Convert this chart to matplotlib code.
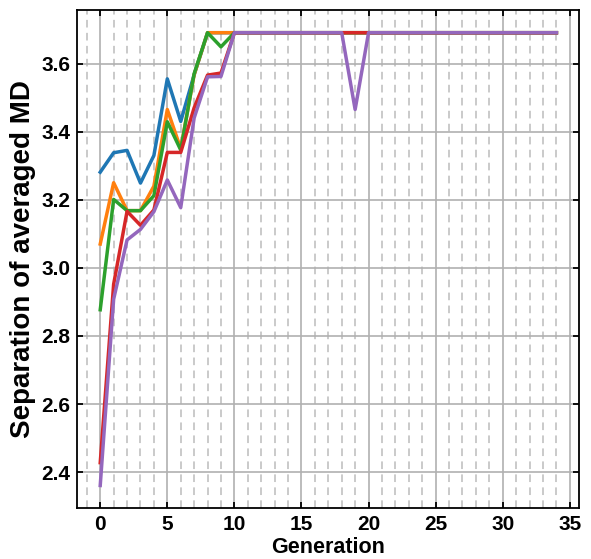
import matplotlib
matplotlib.use("Agg")
import matplotlib.pyplot as plt
from matplotlib.ticker import MultipleLocator

plt.rcParams['font.family'] = ['Liberation Sans', 'DejaVu Sans']
plt.rcParams['font.weight'] = 'bold'

TOP = 3.6905

generations = list(range(35))

# one run per colour, generations 0-10, then flat at the top value
head_blue = [3.281, 3.338, 3.345, 3.249, 3.330, 3.555, 3.430, 3.567, TOP, TOP, TOP]
head_orange = [3.070, 3.250, 3.168, 3.168, 3.240, 3.465, 3.350, 3.567, TOP, TOP, TOP]
head_green = [2.877, 3.201, 3.168, 3.168, 3.212, 3.429, 3.346, 3.570, TOP, 3.649, TOP]
head_red = [2.428, 2.952, 3.166, 3.125, 3.170, 3.339, 3.339, 3.470, 3.566, 3.572, TOP]
head_purple = [2.361, 2.908, 3.082, 3.113, 3.165, 3.258, 3.177, 3.440, 3.561, 3.562, TOP]

blue = head_blue + [TOP] * 24
orange = head_orange + [TOP] * 24
green = head_green + [TOP] * 24
red = head_red + [TOP] * 24
purple = head_purple + [TOP] * 8 + [3.465] + [TOP] * 15

fig, ax = plt.subplots(figsize=(5.91, 5.59), dpi=100)

for series in [blue, orange, green, red, purple]:
    ax.plot(generations, series, linewidth=2.5)

ax.xaxis.set_major_locator(MultipleLocator(5))
ax.xaxis.set_minor_locator(MultipleLocator(1))
ax.yaxis.set_major_locator(MultipleLocator(0.2))

ax.grid(which='major', axis='both', color='#b0b0b0', linewidth=1.2)
ax.grid(which='minor', axis='x', color='#bcbcbc', linewidth=1.1,
        linestyle=(0, (5, 3.5)))
ax.set_axisbelow(True)

ax.tick_params(which='major', direction='in', top=True, right=True,
               length=4.5, width=1.3, labelsize=15, pad=5)
ax.tick_params(which='minor', length=0)
for lab in ax.get_xticklabels() + ax.get_yticklabels():
    lab.set_fontweight('bold')

for sp in ax.spines.values():
    sp.set_linewidth(1.3)

ax.set_xlabel("Generation", fontsize=15.5, fontweight='bold', labelpad=2)
ax.set_ylabel("Separation of averaged MD", fontsize=20, fontweight='bold',
              labelpad=4)

fig.subplots_adjust(left=0.131, right=0.98, top=0.982, bottom=0.091)
fig.savefig("out.png", dpi=100)
